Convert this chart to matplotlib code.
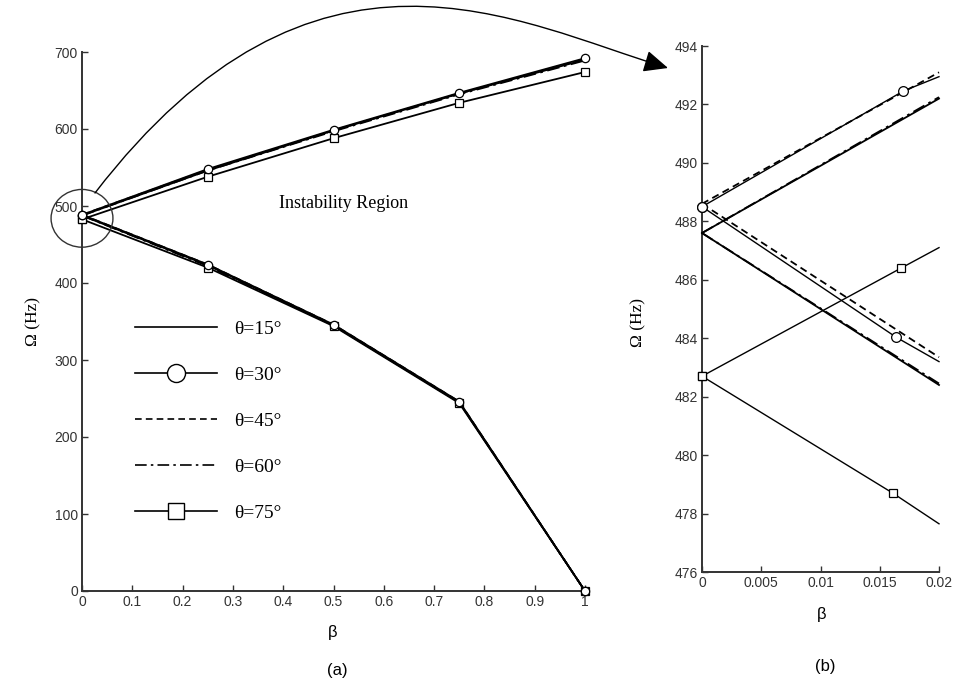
import matplotlib
matplotlib.use("Agg")
import matplotlib.pyplot as plt
from matplotlib.lines import Line2D
from matplotlib.patches import Ellipse, FancyArrowPatch
from matplotlib.path import Path
from matplotlib.transforms import Affine2D

# (a) whole range of beta
beta_a = [0, 0.25, 0.5, 0.75, 1.0]
up_a = {
    15: [487.6, 546, 598, 646, 690],
    30: [488.5, 548, 599, 647, 692],
    45: [488.6, 547, 598, 646, 691],
    60: [487.6, 546, 597, 645, 689],
    75: [482.7, 538, 588, 634, 674],
}
lo_a = {
    15: [487.6, 423, 345, 245, 0],
    30: [488.5, 424, 346, 246, 0],
    45: [488.6, 424, 346, 246, 0],
    60: [487.6, 422, 345, 245, 0],
    75: [482.7, 420, 344, 244, 0],
}

# (b) zoom near beta = 0
beta_b = [0.0, 0.02]
up_b = {15: [487.6, 492.2], 45: [488.6, 493.1], 60: [487.6, 492.25]}
lo_b = {15: [487.6, 482.4], 45: [488.6, 483.35], 60: [487.6, 482.45]}
# lines that carry a marker (marker point)
beta_b30_up = [0.0, 0.0170, 0.02]
b30_up = [488.5, 492.46, 492.95]
beta_b30_lo = [0.0, 0.0164, 0.02]
b30_lo = [488.5, 484.03, 483.2]
beta_b75_up = [0.0, 0.0168, 0.02]
b75_up = [482.7, 486.4, 487.1]
beta_b75_lo = [0.0, 0.0161, 0.02]
b75_lo = [482.7, 478.7, 477.65]

xticks_a = [0, 0.1, 0.2, 0.3, 0.4, 0.5, 0.6, 0.7, 0.8, 0.9, 1]
xtick_labels_a = ["0", "0.1", "0.2", "0.3", "0.4", "0.5", "0.6", "0.7", "0.8", "0.9", "1"]
yticks_a = [0, 100, 200, 300, 400, 500, 600, 700]
xticks_b = [0, 0.005, 0.01, 0.015, 0.02]
xtick_labels_b = ["0", "0.005", "0.01", "0.015", "0.02"]
yticks_b = [476, 478, 480, 482, 484, 486, 488, 490, 492, 494]

styles = {
    15: dict(ls="-", marker=None),
    30: dict(ls="-", marker="o"),
    45: dict(ls=(0, (4, 2.5)), marker=None),
    60: dict(ls=(0, (7, 2.5, 1.5, 2.5)), marker=None),
    75: dict(ls="-", marker="s"),
}

W, H = 957, 684
fig = plt.figure(figsize=(W / 100, H / 100), dpi=100)
# pixel coordinates of the picture (origin top left)
px = Affine2D().scale(1 / W, -1 / H).translate(0, 1) + fig.transFigure

ax1 = fig.add_axes([82 / W, 1 - 591 / H, 503 / W, 539 / H])
ax2 = fig.add_axes([702 / W, 1 - 572 / H, 237 / W, 526 / H])

serif = "Liberation Serif"
sans = "Liberation Sans"

# panel (a)
for th in [75, 60, 45, 15, 30]:
    st = styles[th]
    for ys in (up_a[th], lo_a[th]):
        ax1.plot(beta_a, ys, color="black", lw=1.3, ls=st["ls"], marker=st["marker"],
                 ms=6, mfc="white", mec="black", mew=0.9, clip_on=False, zorder=3)

# panel (b)
for th in [15, 60, 45]:
    st = styles[th]
    for ys in (up_b[th], lo_b[th]):
        ax2.plot(beta_b, ys, color="black", lw=1.3, ls=st["ls"], clip_on=False, zorder=3)
for xs, ys, mk in [(beta_b30_up, b30_up, "o"), (beta_b30_lo, b30_lo, "o"),
                   (beta_b75_up, b75_up, "s"), (beta_b75_lo, b75_lo, "s")]:
    ax2.plot(xs, ys, color="black", lw=1.0, marker=mk, markevery=[0, 1],
             ms=7 if mk == "o" else 6, mfc="white", mec="black", mew=0.9,
             clip_on=False, zorder=4)

for ax in (ax1, ax2):
    for side in ("top", "right"):
        ax.spines[side].set_visible(False)
    for side in ("left", "bottom"):
        ax.spines[side].set_linewidth(1.4)
        ax.spines[side].set_color("#333333")
    ax.tick_params(direction="in", length=4, width=1, colors="#333333", labelsize=10, pad=3)

ax1.set_xlim(0, 1)
ax1.set_ylim(0, 700)
ax1.set_xticks(xticks_a, xtick_labels_a, fontfamily=sans)
ax1.set_yticks(yticks_a, [str(v) for v in yticks_a], fontfamily=sans)
ax2.set_xlim(0, 0.02)
ax2.set_ylim(476, 494)
ax2.set_xticks(xticks_b, xtick_labels_b, fontfamily=sans)
ax2.set_yticks(yticks_b, [str(v) for v in yticks_b], fontfamily=sans)

ax1.set_ylabel("Ω (Hz)", fontfamily=serif, fontsize=12.5)
ax1.yaxis.set_label_coords(-0.08, 0.5)
ax2.set_ylabel("Ω (Hz)", fontfamily=serif, fontsize=12.5)
ax2.yaxis.set_label_coords(-0.235, 0.475)

fig.text(333, 632, "β", transform=px, ha="center", va="center", fontsize=12, fontfamily=sans)
fig.text(337, 670, "(a)", transform=px, ha="center", va="center", fontsize=12, fontfamily=sans)
fig.text(822, 615, "β", transform=px, ha="center", va="center", fontsize=12, fontfamily=sans)
fig.text(825, 667, "(b)", transform=px, ha="center", va="center", fontsize=12, fontfamily=sans)

fig.text(344, 203, "Instability Region", transform=px, ha="center", va="center",
         fontsize=13, fontfamily=serif)

# circle round the origin and the arrow to panel (b)
ax1.add_patch(Ellipse((0, 484), 0.123, 75, fill=False, ec="#333333", lw=1.0,
                      clip_on=False, zorder=5))
verts = [(95, 193), (315, -93), (518, 23), (668, 68)]
arrow = FancyArrowPatch(path=Path(verts, [Path.MOVETO, Path.CURVE4, Path.CURVE4, Path.CURVE4]),
                        arrowstyle="-|>,head_length=1.0,head_width=0.45", mutation_scale=15,
                        color="black", lw=1.0, transform=px)
fig.add_artist(arrow)

# legend
handles = []
labels = []
for th in [15, 30, 45, 60, 75]:
    st = styles[th]
    handles.append(Line2D([], [], color="black", lw=1.2, ls=st["ls"], marker=st["marker"],
                          ms=13 if st["marker"] == "o" else 12, mfc="white", mec="black",
                          mew=1.0))
    labels.append(f"θ={th}°")
ax1.legend(handles, labels, loc="upper left", bbox_to_anchor=(135, 320),
           bbox_transform=px, frameon=False, borderpad=0, borderaxespad=0,
           handlelength=4.2, handletextpad=0.9, labelspacing=1.46,
           prop={"family": serif, "size": 14})

fig.savefig("out.png", dpi=100)
